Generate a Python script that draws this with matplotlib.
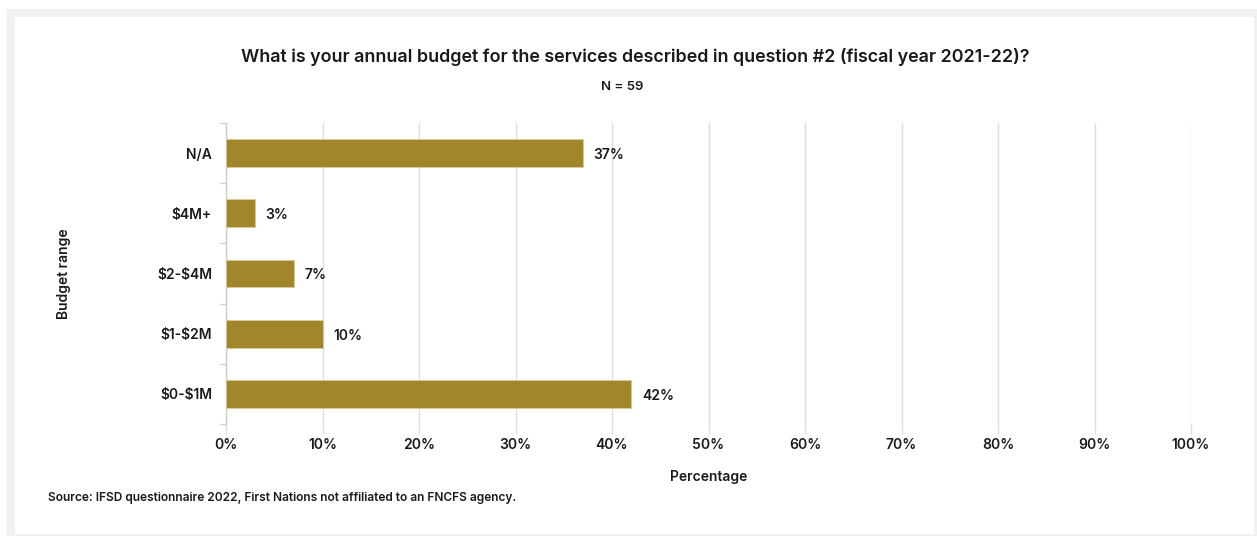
import matplotlib
matplotlib.use("Agg")
import matplotlib.pyplot as plt
from matplotlib.patches import Rectangle
from matplotlib.ticker import FixedLocator

plt.rcParams['font.family'] = ['Inter', 'DejaVu Sans']
plt.rcParams['text.parse_math'] = False

categories = ["$0-$1M", "$1-$2M", "$2-$4M", "$4M+", "N/A"]
percentages = [42, 10, 7, 3, 37]
x_ticks = [0, 10, 20, 30, 40, 50, 60, 70, 80, 90, 100]

title = "What is your annual budget for the services described in question #2 (fiscal year 2021-22)?"
subtitle = "N = 59"
source = "Source: IFSD questionnaire 2022, First Nations not affiliated to an FNCFS agency."

BAR = "#a1862b"
GRID = "#dedede"
TEXT = "#1a1a1a"
WEIGHT = "semibold"

W, H = 1257, 536
fig = plt.figure(figsize=(W / 100, H / 100), dpi=100)
fig.patch.set_facecolor("white")

# card frame
fig.patches.append(Rectangle((7 / W, 0), 1, 1 - 9 / H, transform=fig.transFigure,
                             facecolor="#f0f0f0", edgecolor="none", zorder=-2))
fig.patches.append(Rectangle((15 / W, 2 / H), (1254 - 15) / W, 1 - 19 / H,
                             transform=fig.transFigure,
                             facecolor="white", edgecolor="none", zorder=-1))

left, right, top, bottom = 226, 1191, 123, 424
ax = fig.add_axes([left / W, 1 - bottom / H, (right - left) / W, (bottom - top) / H])
ax.set_facecolor("none")

y = list(range(len(categories)))
ax.barh(y, percentages, height=0.46, color=BAR, edgecolor="#d9cc9c", linewidth=0.6, zorder=3)
for yi, v in zip(y, percentages):
    ax.text(v + 1.1, yi - 0.03, f"{v}%", va="center", ha="left", fontsize=10,
            fontweight=WEIGHT, color=TEXT, zorder=4)

ax.set_xlim(0, 100)
ax.set_ylim(-0.5, len(categories) - 0.5)

ax.xaxis.set_major_locator(FixedLocator(x_ticks))
ax.set_xticklabels([f"{t}%" for t in x_ticks])
ax.grid(axis="x", color=GRID, linewidth=1, zorder=0)
ax.tick_params(axis="x", length=7, color=GRID, width=1, pad=3, labelsize=10,
               labelcolor=TEXT)

ax.set_yticks(y)
ax.set_yticklabels(categories)
ax.yaxis.set_minor_locator(FixedLocator([i - 0.5 for i in range(len(categories) + 1)]))
ax.tick_params(axis="y", which="major", length=0, pad=10, labelsize=10, labelcolor=TEXT)
ax.tick_params(axis="y", which="minor", length=4, color="#cfcfcf", width=1)

for side in ["top", "right", "bottom"]:
    ax.spines[side].set_visible(False)
ax.spines["left"].set_color("#cfcfcf")
ax.spines["left"].set_linewidth(1)

for lbl in ax.get_xticklabels() + ax.get_yticklabels():
    lbl.set_fontweight(WEIGHT)

ax.set_xlabel("Percentage", fontsize=10, fontweight=WEIGHT, color=TEXT, labelpad=13)
ax.set_ylabel("Budget range", fontsize=10, fontweight=WEIGHT, color=TEXT, labelpad=62)

fig.text(635 / W, 1 - 57 / H, title, ha="center", va="center", fontsize=12.9,
         fontweight="semibold", color=TEXT)
fig.text(622 / W, 1 - 87 / H, subtitle, ha="center", va="center", fontsize=9.5,
         fontweight=WEIGHT, color=TEXT)
fig.text(48 / W, 1 - 498 / H, source, ha="left", va="center", fontsize=8.6,
         fontweight=WEIGHT, color=TEXT)

fig.savefig("out.png", dpi=100)
